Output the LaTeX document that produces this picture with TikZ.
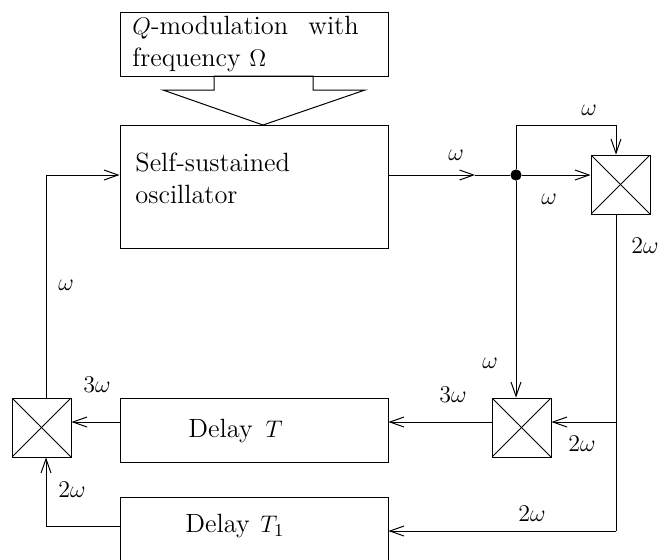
\documentclass[tikz,border=0pt]{standalone}
\usepackage{tikz}
\usetikzlibrary{arrows.meta,calc}

\begin{document}
\begin{tikzpicture}[
    x=0.5pt, y=-0.5pt,
    every node/.style={font=\fontsize{13.2}{16}\selectfont},
    box/.style={draw, line width=0.5pt, inner sep=0pt, minimum width=134pt},
    mixer/.style={draw, line width=0.5pt, inner sep=0pt, minimum size=29.5pt,
                  path picture={
                    \draw[line width=0.45pt] (path picture bounding box.north west) -- (path picture bounding box.south east);
                    \draw[line width=0.45pt] (path picture bounding box.north east) -- (path picture bounding box.south west);
                  }},
    line/.style={line width=0.5pt},
    arrow/.style={line width=0.5pt, ->, >={Straight Barb[length=7pt,width=5pt]}},
    tag/.style={inner sep=0pt}
]

\useasboundingbox (0,0) rectangle (660,559);
\clip (0,0) rectangle (660,559);

% Main blocks
\node[box, minimum height=32pt] (modbox) at (254,44) {};
\node[box, minimum height=61.5pt] (osc) at (254,186.5) {};
\node[box, minimum height=32pt] (delayT) at (254,430) {};
\node[box, minimum height=40pt] (delayTa) at (254,537) {};

% Mixers
\node[mixer] (mixa) at (620.5,184.5) {};
\node[mixer] (mixb) at (521.5,427.5) {};
\node[mixer] (mixc) at (41.5,427.5) {};

% Block texts
\node[tag, anchor=west, align=left] (modtext) at (132,44.5) {$Q$-modulation\ \ \hspace{1.5pt}with\\frequency $\Omega$};
\node[tag, anchor=west, align=left] (osctext) at (135,178) {Self-sustained\\oscillator};
\node[tag, anchor=west] (delayTtext) at (188,431) {Delay\,\ $T$};
\node[tag, anchor=west] (delayTatext) at (185,526) {Delay\hspace{1pt}\ $T_1$};

% Helper points
\node[circle, fill, inner sep=0pt, minimum size=5.6pt] (dot) at (516,175) {};
\coordinate (oscmid) at (475,175);
\coordinate (oscout) at (388,175);
\coordinate (fb) at (46,175);
\coordinate (topleft) at (516,125);
\coordinate (topright) at (616,125);
\coordinate (mixaout) at (616,214);
\coordinate (split) at (616,422);
\coordinate (corner) at (616,531);
\coordinate (cornerl) at (46,526);

% Wide arrow from modulation into oscillator
\draw[line] (214,76) -- (214,90) -- (163,90) -- (263,125) -- (365,90) -- (313,90) -- (313,76) -- cycle;

% Connect blocks
\draw[arrow] (oscout) -- (oscmid);
\draw[line] (oscmid) -- (dot);
\draw[arrow] (dot) -- (mixa.west |- dot);
\draw[arrow] (dot) -- (topleft) -- (topright) -- (topright |- mixa.north);
\draw[arrow] (dot) -- (dot |- mixb.north);
\draw[line] (mixaout) -- (corner);
\draw[arrow] (split) -- (mixb.east |- split);
\draw[arrow] (mixb.west |- split) -- (delayT.east |- split);
\draw[arrow] (delayT.west |- split) -- (mixc.east |- split);
\draw[arrow] (corner) -- (delayTa.east |- corner);
\draw[arrow] (delayTa.west |- cornerl) -- (cornerl) -- (cornerl |- mixc.south);
\draw[arrow] (fb |- mixc.north) -- (fb) -- (osc.west |- fb);

% Frequency labels
\node[tag] (la) at (456,155) {$\omega$};
\node[tag] (lb) at (589,110) {$\omega$};
\node[tag] (lc) at (549,199) {$\omega$};
\node[tag] (ld) at (645,246) {$2\omega$};
\node[tag] (le) at (66,285) {$\omega$};
\node[tag] (lf) at (97,385) {$3\omega$};
\node[tag] (lg) at (72,490) {$2\omega$};
\node[tag] (lh) at (490,363) {$\omega$};
\node[tag] (li) at (453,395) {$3\omega$};
\node[tag] (lj) at (582,444) {$2\omega$};
\node[tag] (lk) at (532,514) {$2\omega$};

\end{tikzpicture}
\end{document}
